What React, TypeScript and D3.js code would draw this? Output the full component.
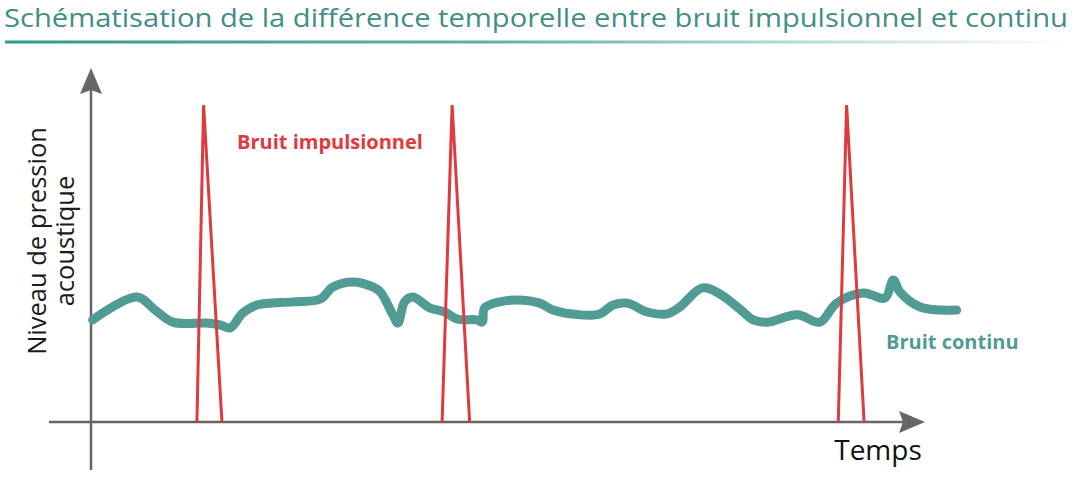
import React from "react";
import * as d3 from "d3";

const TITLE = "Schématisation de la différence temporelle entre bruit impulsionnel et continu";
const Y_LABEL_LINES = ["Niveau de pression", "acoustique"];
const X_LABEL = "Temps";
const IMPULSE_LABEL = "Bruit impulsionnel";
const CONTINUOUS_LABEL = "Bruit continu";

// Continuous noise: time (arbitrary units) and level (arbitrary units)
const contTime = [0.2, 5.5, 7.7, 9.8, 13.9, 15.5, 16.7, 18.2, 19.9, 24.2, 27.5, 29.0, 31.4, 33.8, 34.7, 36.2, 36.8, 37.6, 38.6, 40.6, 42.4, 43.9, 46.3, 46.9, 47.2, 49.0, 51.1, 53.8, 55.4, 58.6, 61.0, 62.6, 64.3, 66.7, 69.1, 70.6, 73.3, 75.4, 77.8, 79.4, 81.1, 84.7, 87.4, 89.4, 92.6, 95.2, 96.2, 97.0, 99.4, 103.8];
const contLevel = [32.2, 39.4, 35.3, 31.5, 31.2, 30.6, 29.7, 34.4, 36.9, 37.9, 38.8, 42.6, 44.2, 42.6, 41.0, 33.8, 31.2, 37.9, 39.4, 36.0, 34.7, 32.5, 32.2, 31.5, 36.0, 37.9, 38.5, 37.5, 35.3, 33.8, 34.1, 36.9, 37.5, 34.7, 34.1, 36.3, 42.3, 40.4, 35.6, 32.2, 31.5, 33.8, 31.5, 37.5, 40.7, 39.1, 44.8, 41.0, 36.3, 35.3];

// Impulse noise: three spikes (start, peak, end times) and peak level
const impulseStart = [12.7, 42.1, 89.6];
const impulsePeak = [13.5, 43.3, 90.6];
const impulseEnd = [15.7, 45.4, 92.7];
const impulseLevel = [100, 100, 100];

const W = 1092;
const H = 494;

export default function App() {
  const x = d3.scaleLinear().domain([0, 100]).range([91, 925]);
  const y = d3.scaleLinear().domain([0, 100]).range([422, 105]);

  const contData = contTime.map((t, i) => [t, contLevel[i]] as [number, number]);
  const contLine = d3
    .line<[number, number]>()
    .x((d) => x(d[0]))
    .y((d) => y(d[1]))
    .curve(d3.curveCatmullRom.alpha(0.5));

  const spikeLine = d3
    .line<[number, number]>()
    .x((d) => x(d[0]))
    .y((d) => y(d[1]));

  const x0 = x(0);
  const y0 = y(0);
  const xAxisStart = 49;
  const xTip = 925;
  const yTip = 68;
  const yAxisEnd = 470;

  return (
    <svg width={W} height={H} style={{ position: "absolute", left: 0, top: 0 }}>
      <defs>
        <linearGradient id="ul" x1="0" x2="1" y1="0" y2="0">
          <stop offset="0" stopColor="#2e9a8f" />
          <stop offset="0.45" stopColor="#5fb0a8" />
          <stop offset="1" stopColor="#5fb0a8" stopOpacity="0" />
        </linearGradient>
      </defs>
      <rect width={W} height={H} fill="#fff" />
      <text
        x={4}
        y={27}
        fill="#3f8e88"
        fontFamily="'Open Sans', sans-serif"
        fontSize={26}
        textLength={1064}
        lengthAdjust="spacingAndGlyphs"
      >
        {TITLE}
      </text>
      <rect x={5} y={40.5} width={1066} height={3} fill="url(#ul)" />

      {/* axes */}
      <line x1={x0} x2={x0} y1={yAxisEnd} y2={yTip + 20} stroke="#666" strokeWidth={2.5} />
      <path
        d={`M${x0},${yTip} L${x0 + 11},${yTip + 26} L${x0},${yTip + 22} L${x0 - 11},${yTip + 26} Z`}
        fill="#666"
      />
      <line x1={xAxisStart} x2={xTip - 20} y1={y0} y2={y0} stroke="#666" strokeWidth={2.5} />
      <path
        d={`M${xTip},${y0} L${xTip - 26},${y0 + 11} L${xTip - 22},${y0} L${xTip - 26},${y0 - 11} Z`}
        fill="#666"
      />

      {/* axis labels */}
      <g transform="translate(0,241) rotate(-90)" fontFamily="'Open Sans', sans-serif" fontSize={25.5} fill="#1a1a1a" textAnchor="middle">
        <text x={0} y={46}>{Y_LABEL_LINES[0]}</text>
        <text x={0} y={74}>{Y_LABEL_LINES[1]}</text>
      </g>
      <text x={878} y={460} fontFamily="'Open Sans', sans-serif" fontSize={28} fill="#111" textAnchor="middle">
        {X_LABEL}
      </text>

      {/* continuous noise */}
      <path
        d={contLine(contData) || ""}
        fill="none"
        stroke="#519b95"
        strokeWidth={9}
        strokeLinecap="round"
        strokeLinejoin="round"
      />

      {/* impulse noise */}
      {impulsePeak.map((p, i) => (
        <path
          key={i}
          d={
            spikeLine([
              [impulseStart[i], 0],
              [p, impulseLevel[i]],
              [impulseEnd[i], 0],
            ]) || ""
          }
          fill="none"
          stroke="#e0393e"
          strokeWidth={3}
          strokeLinejoin="bevel"
        />
      ))}

      <text x={237} y={149} fontFamily="'Open Sans', sans-serif" fontWeight="bold" fontSize={20} fill="#e0393e">
        {IMPULSE_LABEL}
      </text>
      <text x={886} y={349} fontFamily="'Open Sans', sans-serif" fontWeight="bold" fontSize={20} fill="#519b95">
        {CONTINUOUS_LABEL}
      </text>
    </svg>
  );
}
